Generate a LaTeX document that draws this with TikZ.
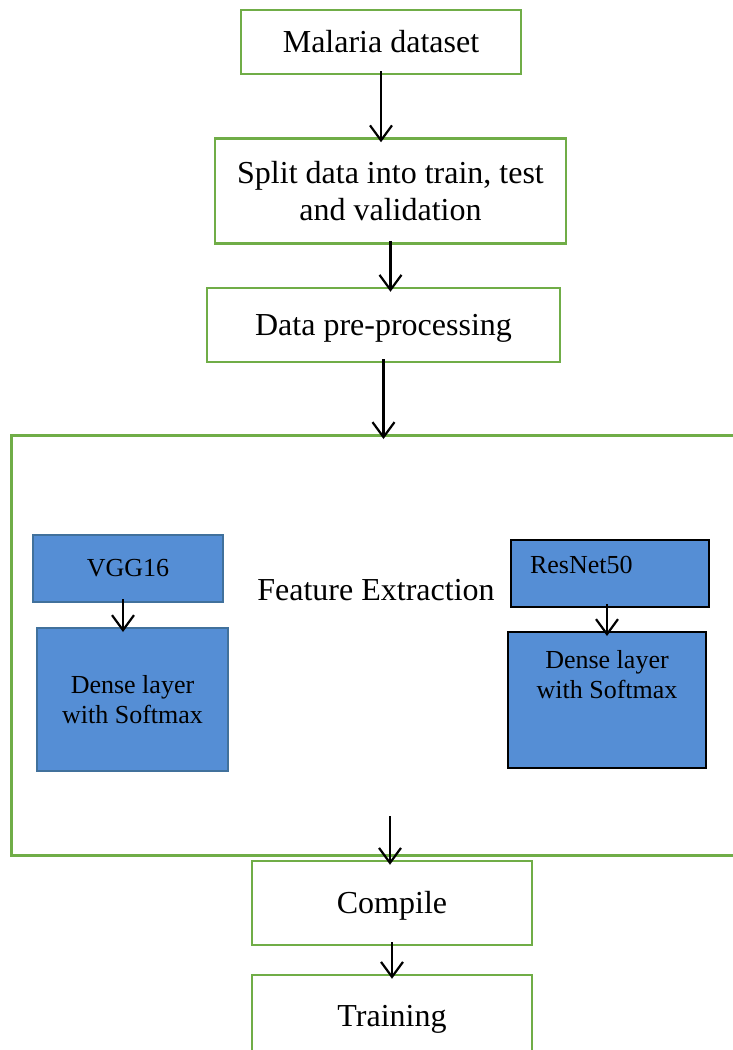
\documentclass[tikz,border=0pt]{standalone}
\usepackage{fontspec}
\setmainfont{Liberation Serif}
\usetikzlibrary{arrows.meta}
\definecolor{boxgreen}{HTML}{70AD47}
\definecolor{boxblue}{HTML}{558ED5}
\definecolor{edgeblue}{HTML}{41719C}

\begin{document}
\begin{tikzpicture}[x=1pt,y=-1pt,
    stage/.style={draw=boxgreen,line width=2.5pt,font=\fontsize{32}{37}\selectfont,align=center,inner sep=0pt},
    oneline/.style={text height=21pt,text depth=0pt},
    net/.style={draw=edgeblue,fill=boxblue,line width=2pt,font=\fontsize{26}{30}\selectfont,align=center,inner sep=0pt},
    flow/.style={-{Straight Barb[length=15pt,width=22pt]},line width=2.2pt,shorten >=-5pt,shorten <=-4pt}]
    \useasboundingbox (0,0) rectangle (733,1050);
    \node[stage,oneline,minimum width=280,minimum height=64] (malaria) at (381,42) {Malaria dataset};
    \node[stage,minimum width=351,minimum height=105] (split) at (390.5,191) {Split data into train, test\\and validation};
    \node[stage,oneline,minimum width=353,minimum height=74] (prep) at (383.5,325) {Data pre-processing};
    \node[stage,minimum width=740,minimum height=420,anchor=north west] (fx) at (10,434) {};
    \node[font=\fontsize{32}{37}\selectfont] (fxtitle) at (376,590) {Feature Extraction};
    \node[net,minimum width=190,minimum height=67] (vgg) at (128,568.5) {VGG16};
    \node[net,minimum width=191,minimum height=143] (vggdense) at (132.5,699.5) {Dense layer\\with Softmax};
    \node[net,draw=black,minimum width=198,minimum height=67,text width=160pt,align=left,text depth=18pt] (resnet) at (610,573.5) {ResNet50};
    \node[net,draw=black,minimum width=198,minimum height=136,text depth=52pt] (resdense) at (607,700) {Dense layer\\with Softmax};
    \node[stage,oneline,minimum width=280,minimum height=84] (compile) at (392,903) {Compile};
    \node[stage,oneline,minimum width=280,minimum height=82] (training) at (392,1016) {Training};
    \coordinate (fxout) at (390,820);
    \draw[flow] (malaria.south) -- (malaria.south |- split.north);
    \draw[flow] (split.south) -- (split.south |- prep.north);
    \draw[flow] (prep.south) -- (prep.south |- fx.north);
    \draw[flow] ([xshift=-5pt]vgg.south) -- ([xshift=-5pt]vgg.south |- vggdense.north);
    \draw[flow] ([xshift=-3pt]resnet.south) -- ([xshift=-3pt]resnet.south |- resdense.north);
    \draw[flow] (fxout) -- (fxout |- compile.north);
    \draw[flow] (compile.south) -- (compile.south |- training.north);
\end{tikzpicture}
\end{document}
